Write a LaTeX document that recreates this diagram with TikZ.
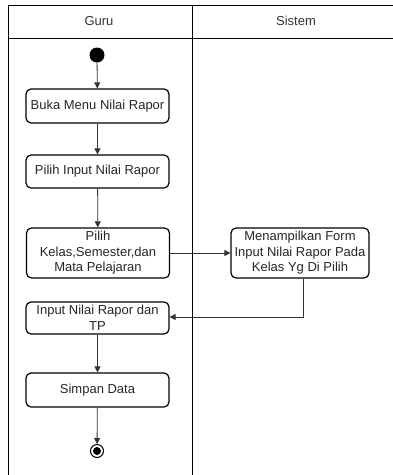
\documentclass[tikz,border=0pt]{standalone}
\usepackage{fontspec}
\setmainfont{Liberation Sans}
\usetikzlibrary{arrows.meta}
\begin{document}
\begin{tikzpicture}[x=1pt,y=-1pt,
  act/.style={draw, line width=1.2pt, rounded corners=5pt, minimum width=143pt, inner sep=0.5pt, align=center, font=\fontsize{13}{15.5}\selectfont, text=black!85},
  flow/.style={draw=black!80, line width=0.8pt, -{Triangle[length=6pt,width=6pt]}},
  lane/.style={draw, line width=0.8pt}]
\useasboundingbox (0,0) rectangle (393,475);
% swimlanes
\draw[lane] (8,475) -- (8,5) -- (393,5);
\draw[lane] (8,38) -- (393,38);
\draw[lane] (192,5) -- (192,475);
\node[font=\fontsize{13}{15}\selectfont, text=black!80] (h1) at (99,21) {Guru};
\node[font=\fontsize{13}{15}\selectfont, text=black!80] (h2) at (296,21) {Sistem};
% start
\node[circle, fill=black, minimum size=15pt, inner sep=0pt] (start) at (97,55) {};
% activities
\node[act, minimum height=34pt] (a1) at (97.5,106) {Buka Menu Nilai Rapor};
\node[act, minimum height=33pt] (a2) at (97.5,171.5) {Pilih Input Nilai Rapor};
\node[act, minimum height=50pt] (a3) at (98,253) {Pilih\\Kelas,Semester,dan\\Mata Pelajaran};
\node[act, minimum width=138pt, minimum height=50pt] (a4) at (300,253) {Menampilkan Form\\Input Nilai Rapor Pada\\Kelas Yg Di Pilih};
\node[act, minimum height=32pt] (a5) at (97.5,318) {Input Nilai Rapor dan\\TP};
\node[act, minimum height=34pt] (a6) at (97.5,390) {Simpan Data};
% end
\node[circle, draw, line width=1pt, minimum size=13pt, inner sep=0pt] (end) at (97,451) {};
\node[circle, fill=black, minimum size=8pt, inner sep=0pt] at (end) {};
% flows
\draw[flow] (start) -- (a1);
\draw[flow] (a1) -- (a2);
\draw[flow] (a2) -- (a3);
\draw[flow] (a3) -- (a4);
\draw[flow] (a4.south -| 303,0) |- (a5.east |- 0,317);
\draw[flow] (a5) -- (a6);
\draw[flow] (a6) -- (end);
\end{tikzpicture}
\end{document}
